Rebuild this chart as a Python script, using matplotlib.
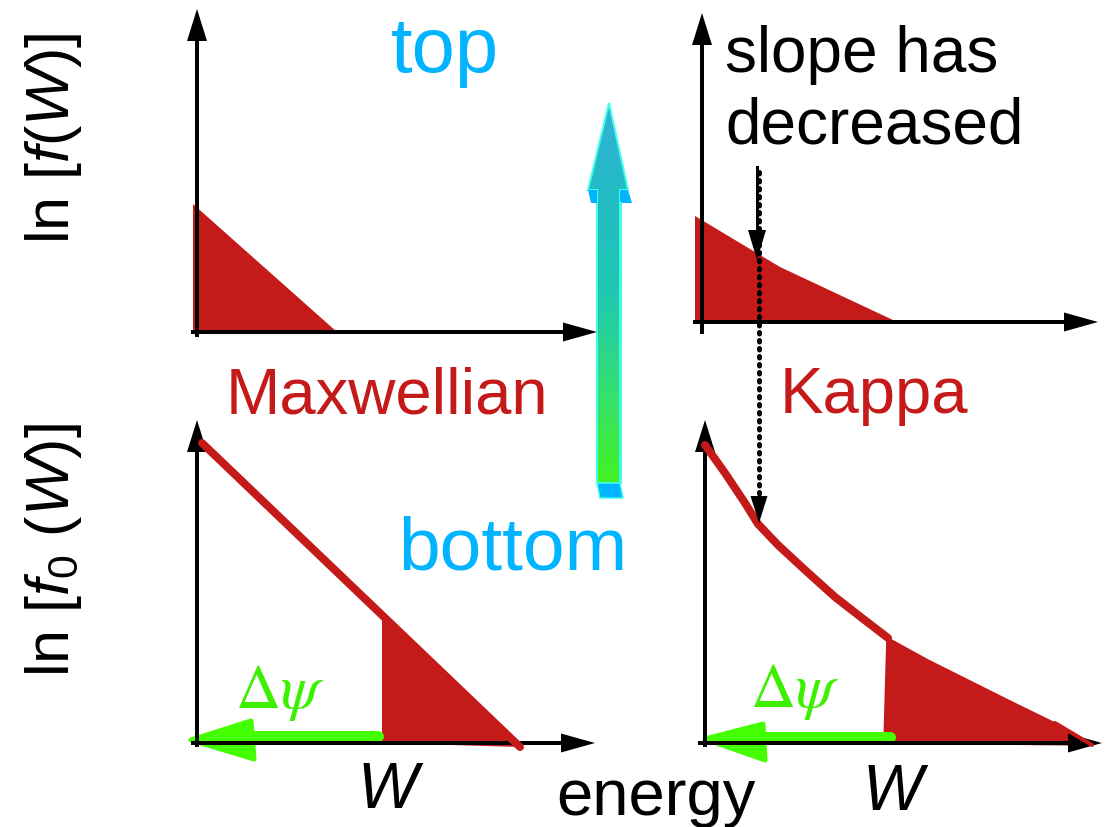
import numpy as np
import matplotlib
matplotlib.use("Agg")
import matplotlib.pyplot as plt
from matplotlib.patches import Polygon
from matplotlib.colors import LinearSegmentedColormap

plt.rcParams['font.family'] = ['Liberation Sans', 'DejaVu Sans']
plt.rcParams['mathtext.fontset'] = 'custom'
plt.rcParams['mathtext.rm'] = 'Liberation Sans'
plt.rcParams['mathtext.it'] = 'Liberation Sans:italic'

# schematic in pixel units of the drawing (x to the right, y downwards)
# top row: ln f(W), shaded part only
top_max_x = [193, 193, 337]
top_max_y = [204, 334, 332]
top_kap_x = [695, 780, 893, 695]
top_kap_y = [216, 267, 320, 320]

# bottom row: ln f0(W)
bot_max_x = [202, 520]
bot_max_y = [443, 747]
bot_kap_x = [705, 725, 745, 758, 778, 805, 835, 862, 888, 928, 968, 1012, 1055, 1092]
bot_kap_y = [445, 473, 503, 524, 545, 570, 597, 618, 638, 660, 680, 702, 723, 745]
cut_max = 382     # energy Delta psi for Maxwellian
cut_kap = 887     # energy Delta psi for Kappa

RED = '#c41a1a'
CYAN = '#00b4ff'
GREEN = '#44ff00'
PT = 0.72  # points per pixel

fig = plt.figure(figsize=(11.09, 8.27), dpi=100)
ax = fig.add_axes([0, 0, 1, 1])
ax.set_xlim(0, 1109)
ax.set_ylim(827, 0)
ax.axis('off')


def head(tip, direction, length, width, color='k', z=5):
    tx, ty = tip
    dx, dy = direction
    bx, by = tx - dx * length, ty - dy * length
    px, py = -dy, dx
    pts = [(tx, ty), (bx + px * width / 2, by + py * width / 2),
           (bx - px * width / 2, by - py * width / 2)]
    ax.add_patch(Polygon(pts, closed=True, color=color, lw=0, zorder=z))


def axes_arrows(x0, y0, ytop, xright, xstart, ybot):
    ax.plot([x0, x0], [ybot, ytop + 25], color='k', lw=4 * PT, zorder=5)
    head((x0, ytop), (0, -1), 32, 20)
    ax.plot([xstart, xright - 25], [y0, y0], color='k', lw=4 * PT, zorder=5)
    head((xright, y0), (1, 0), 34, 19)


# axes of the four panels
axes_arrows(197, 332, 9, 597, xstart=193, ybot=335)
axes_arrows(702, 322, 13, 1098, xstart=695, ybot=332)
axes_arrows(197, 743, 420, 595, xstart=193, ybot=745)
axes_arrows(705, 743, 420, 1102, xstart=700, ybot=745)

# top panels: shaded tails
ax.fill(top_max_x, top_max_y, color=RED, lw=0, zorder=3)
ax.fill(top_kap_x, top_kap_y, color=RED, lw=0, zorder=3)

# bottom left: Maxwellian
ym = np.interp(cut_max, bot_max_x, bot_max_y)
ax.fill([cut_max, bot_max_x[-1], cut_max], [ym, bot_max_y[-1], 743],
        color=RED, lw=0, zorder=3)
ax.plot(bot_max_x, bot_max_y, color=RED, lw=8 * PT, solid_capstyle='round', zorder=6)

# bottom right: Kappa
kx = np.array(bot_kap_x)
ky = np.array(bot_kap_y)
yk = np.interp(cut_kap, kx, ky)
sel = kx > cut_kap
ax.fill([cut_kap] + list(kx[sel]) + [884], [yk] + list(ky[sel]) + [743],
        color=RED, ec=RED, lw=1.5 * PT, zorder=3)
ax.plot(kx[kx <= 890], ky[kx <= 890], color=RED, lw=8 * PT,
        solid_capstyle='round', solid_joinstyle='round', zorder=6)
ax.plot(kx[-2:], ky[-2:], color=RED, lw=4 * PT, solid_capstyle='round', zorder=6)

# green Delta psi arrows
for tip, c1, c2, xend, yc in [((191, 740), (251, 721), (254, 759), 378, 736),
                              ((705, 739), (763, 724), (765, 760), 890, 737)]:
    ax.plot([c1[0] + 2, xend], [yc, yc], color=GREEN, lw=11 * PT,
            solid_capstyle='round', zorder=4)
    ax.add_patch(Polygon([tip, c1, c2], closed=True, facecolor=GREEN,
                         edgecolor=GREEN, lw=5 * PT, joinstyle='round', zorder=4))

# slope arrows
ax.plot([757, 757], [167, 235], color='k', lw=3 * PT, zorder=7)
head((757, 260), (0, 1), 30, 18, z=7)
ax.plot([759, 759], [172, 500], color='k', lw=5 * PT, ls=(0, (0.3, 1.3)),
        dash_capstyle='round', zorder=7)
head((759, 523), (0, 1), 27, 17, z=7)

# gradient arrow bottom -> top
arrow_pts = [(597, 483), (597, 190), (588, 190), (609, 103), (628, 190),
             (620, 190), (620, 483)]
cmap = LinearSegmentedColormap.from_list(
    'g', ['#44f41c', '#34e070', '#20c8b0', '#22bcc4', '#34b0d8'])
grad = np.linspace(0, 1, 256).reshape(-1, 1)
im = ax.imshow(grad, extent=[580, 640, 490, 100], origin='lower', cmap=cmap,
               aspect='auto', zorder=2)
poly = Polygon(arrow_pts, closed=True, facecolor='none', edgecolor='#40ffe8',
               lw=2 * PT, zorder=3)
ax.add_patch(poly)
im.set_clip_path(poly)
ax.fill([588, 597, 597, 591], [190, 190, 203, 203], color=CYAN, lw=0, zorder=3)
ax.fill([620, 628, 632, 620], [190, 190, 203, 203], color=CYAN, lw=0, zorder=3)
ax.fill([597, 620, 623, 600], [483, 483, 498, 498], color=CYAN,
        ec='#40ffe8', lw=1.5 * PT, zorder=3)
ax.plot([621, 621], [203, 483], color='#40ffe8', lw=2 * PT, zorder=3)

# texts
ax.text(391, 72, 'top', color=CYAN, fontsize=56, va='baseline', ha='left')
ax.text(398, 569, 'bottom', color=CYAN, fontsize=54, va='baseline', ha='left')
ax.text(226, 413, 'Maxwellian', color=RED, fontsize=47, va='baseline', ha='left')
ax.text(780, 413, 'Kappa', color=RED, fontsize=47, va='baseline', ha='left')
ax.text(725, 72, 'slope has', color='k', fontsize=46, va='baseline', ha='left')
ax.text(725, 143, 'decreased', color='k', fontsize=46, va='baseline', ha='left')
ax.text(556, 815, 'energy', color='k', fontsize=47, va='baseline', ha='left')
ax.text(357, 808, 'W', color='k', fontsize=46, fontstyle='italic',
        va='baseline', ha='left')
ax.text(862, 810, 'W', color='k', fontsize=46, fontstyle='italic',
        va='baseline', ha='left')
for x, y in [(235, 708), (750, 707)]:
    ax.text(x, y, r'$\Delta\psi$', color='#3cf000', fontsize=45,
            math_fontfamily='stix', va='baseline', ha='left')
ax.text(54, 138, r'ln [$f$($W$)]', fontsize=44, rotation=90,
        va='center', ha='center')
ax.text(54, 550, r'ln [$f_0$ ($W$)]', fontsize=44, rotation=90,
        va='center', ha='center')

fig.savefig('out.png', dpi=100)
